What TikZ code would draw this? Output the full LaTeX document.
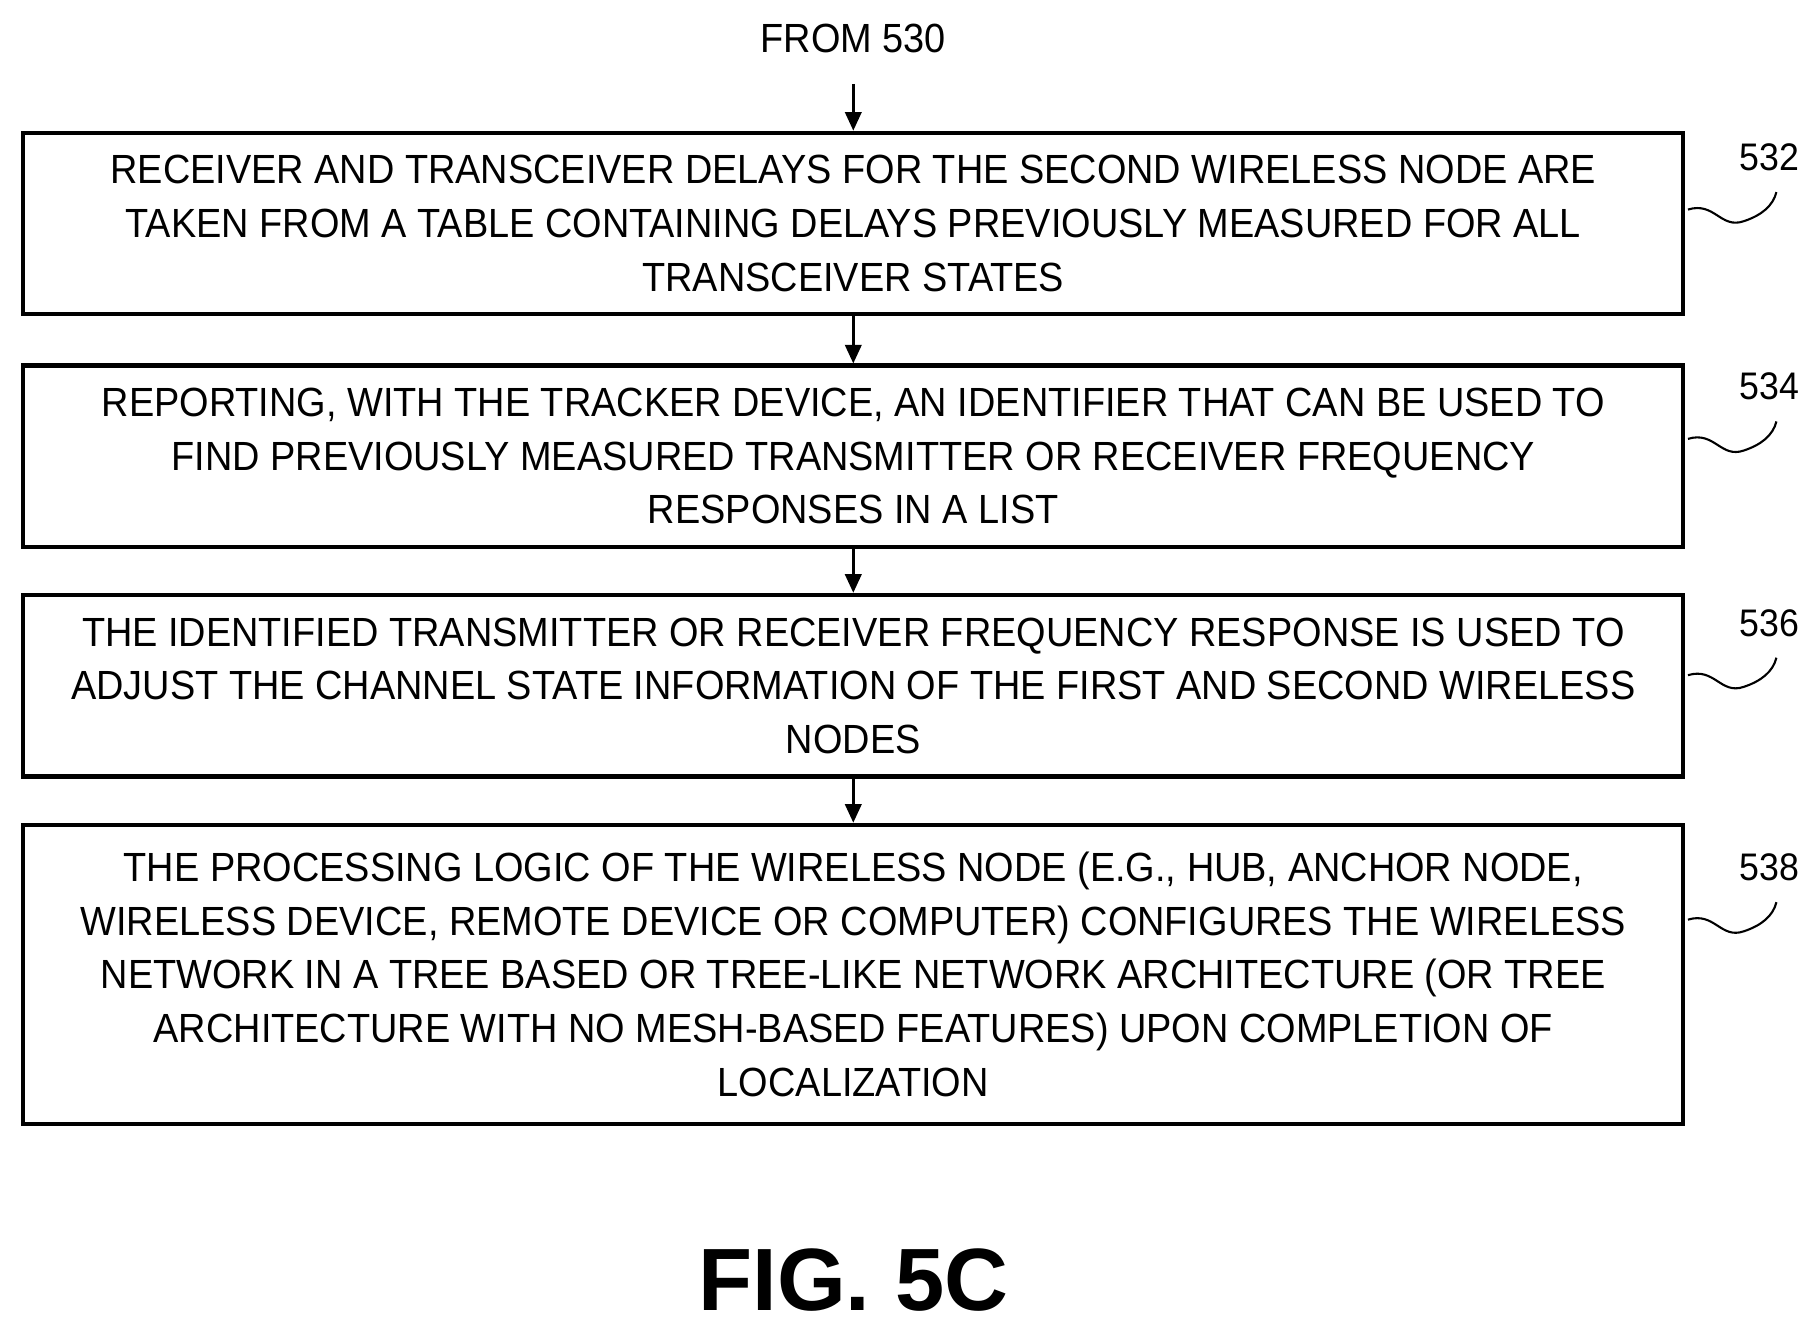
\documentclass[tikz,border=0pt]{standalone}
\usepackage{fontspec}
\setmainfont{Liberation Sans}[FakeStretch=0.93]
\newfontfamily\figfont{Liberation Sans}
\usetikzlibrary{arrows.meta}
\begin{document}
\begin{tikzpicture}[x=1pt,y=-1pt,
  stepbox/.style={draw,line width=3.5pt,minimum width=1426pt,align=center,inner sep=0pt,font=\fontsize{35}{46}\selectfont},
  arr/.style={line width=2.5pt,-{Triangle[length=16pt,width=14pt]}},
  lbl/.style={font=\fontsize{33}{40}\selectfont},
  sq/.style={line width=1.8pt}]
\useasboundingbox (0,0) rectangle (1560,1141);
\node[font=\fontsize{35}{40}\selectfont] (from) at (733,33) {FROM 530};
\node[stepbox,minimum height=156pt] (b1) at (733,192) {RECEIVER AND TRANSCEIVER DELAYS FOR THE SECOND WIRELESS NODE ARE\\TAKEN FROM A TABLE CONTAINING DELAYS PREVIOUSLY MEASURED FOR ALL\\TRANSCEIVER STATES};
\node[stepbox,minimum height=156pt] (b2) at (733,392) {REPORTING, WITH THE TRACKER DEVICE, AN IDENTIFIER THAT CAN BE USED TO\\FIND PREVIOUSLY MEASURED TRANSMITTER OR RECEIVER FREQUENCY\\RESPONSES IN A LIST};
\node[stepbox,minimum height=156pt] (b3) at (733,589) {THE IDENTIFIED TRANSMITTER OR RECEIVER FREQUENCY RESPONSE IS USED TO\\ADJUST THE CHANNEL STATE INFORMATION OF THE FIRST AND SECOND WIRELESS\\NODES};
\node[stepbox,minimum height=257pt] (b4) at (733,837) {THE PROCESSING LOGIC OF THE WIRELESS NODE (E.G., HUB, ANCHOR NODE,\\WIRELESS DEVICE, REMOTE DEVICE OR COMPUTER) CONFIGURES THE WIRELESS\\NETWORK IN A TREE BASED OR TREE-LIKE NETWORK ARCHITECTURE (OR TREE\\ARCHITECTURE WITH NO MESH-BASED FEATURES) UPON COMPLETION OF\\LOCALIZATION};
\coordinate (a0) at (733,72);
\draw[arr] (a0) -- (b1.north);
\draw[arr] (b1.south) -- (b2.north);
\draw[arr] (b2.south) -- (b3.north);
\draw[arr] (b3.south) -- (b4.north);
\foreach \b/\n/\y in {b1/532/135,b2/534/332,b3/536/535,b4/538/745}{
  \node[lbl] (l\n) at (1520,\y) {\n};
  \coordinate (s\n) at (1450,\y+45);
  \coordinate (e\n) at (1526,\y+30);
  \draw[sq] (s\n) .. controls (1473,\y+38) and (1478,\y+62) .. (1498,\y+55) .. controls (1513,\y+50) and (1523,\y+42) .. (e\n);
}
\node[font=\figfont\bfseries\fontsize{76}{80}\selectfont] (fig) at (733,1100) {FIG. 5C};
\end{tikzpicture}
\end{document}
